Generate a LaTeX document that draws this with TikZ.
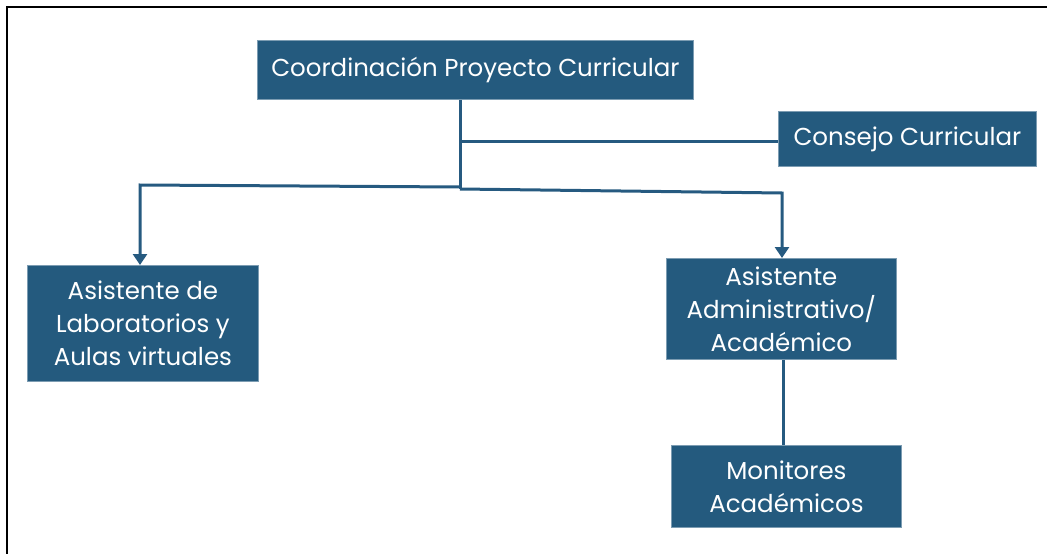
\documentclass[tikz,border=0pt]{standalone}
\usepackage{fontspec}
\setmainfont{Poppins}
\usetikzlibrary{arrows.meta}
\definecolor{boxblue}{RGB}{36,90,126}
\definecolor{lineblue}{RGB}{38,90,128}
\begin{document}
\begin{tikzpicture}[x=1pt,y=-1pt,
  orgbox/.style={fill=boxblue, draw=boxblue!60!white, line width=0.8pt, text=white,
    font=\fontsize{24.5}{33}\selectfont, align=center, inner sep=0pt, anchor=north west},
  link/.style={draw=lineblue, line width=3pt},
  arr/.style={link, -{Triangle[width=14pt,length=11pt]}}]
\useasboundingbox (0,0) rectangle (1047,554);
\draw[line width=2pt] (7,554) -- (7,7) -- (1047,7);
\node[orgbox, minimum width=436pt, minimum height=59pt] (coord) at (257,40) {Coordinación Proyecto Curricular};
\node[orgbox, minimum width=258pt, minimum height=55pt] (consejo) at (778,111) {Consejo Curricular};
\node[orgbox, minimum width=231pt, minimum height=116pt] (lab) at (27,265) {Asistente de\\Laboratorios y\\Aulas virtuales};
\node[orgbox, minimum width=230pt, minimum height=101pt] (asis) at (666,258) {Asistente\\Administrativo/\\Académico};
\node[orgbox, minimum width=230pt, minimum height=82pt] (mon) at (671,445) {Monitores\\Académicos};
\coordinate (jc) at (460,141);
\coordinate (jb) at (460,189);
\coordinate (jl) at (460,187);
\coordinate (lt) at (140,185);
\coordinate (rt) at (782,193);
\coordinate (mv) at (783,300);
\draw[link] (coord.south -| jb) -- (jb);
\draw[link] (jc) -- (consejo.west |- jc);
\draw[arr] (jl) -- (lt) -- (lab.north -| lt);
\draw[arr] (jb) -- (rt) -- (asis.north -| rt);
\draw[link] (asis.south -| mv) -- (mon.north -| mv);
\end{tikzpicture}
\end{document}
